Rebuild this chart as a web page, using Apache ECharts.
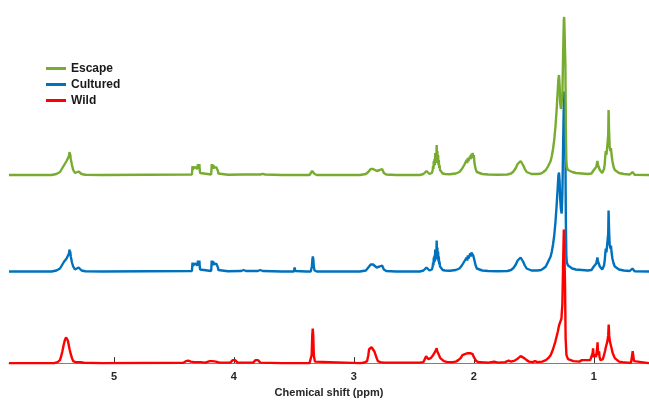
<!DOCTYPE html>
<html>
<head>
<meta charset="utf-8">
<script src="https://cdn.jsdelivr.net/npm/echarts@6/dist/echarts.min.js"></script>
<style>html,body{margin:0;padding:0;background:#fff}#c{width:649px;height:403px}</style>
</head>
<body>
<div id="c"></div>
<script>
// Tick labels of the chemical shift axis (ppm)
const tickValues = [1, 2, 3, 4, 5];
const seriesNames = ['Wild', 'Cultured', 'Escape'];
const legendOrder = ['Escape', 'Cultured', 'Wild'];

// Spectra: [chemical shift (ppm), intensity (arbitrary units)]
const escape = [
 [5.875,0],[5.52,0],[5.48,1],[5.45,3],[5.43,7],[5.415,10],[5.405,12],[5.40,11],[5.395,14],[5.39,13],[5.385,16],[5.38,15],[5.375,19],[5.372,17],[5.37,23],[5.367,18],[5.365,21],[5.36,16],[5.355,13],[5.35,10],[5.34,5],[5.325,2],[5.31,1.5],[5.295,3.5],[5.285,3],[5.27,1],[5.24,0.3],[5.10,0],
 [4.35,0.5],[4.347,6],[4.345,9],[4.343,5],[4.341,9],[4.339,6],[4.337,8],[4.334,7],[4.33,8],[4.326,7],[4.322,8],[4.318,7],[4.314,8],[4.31,7],[4.306,10],[4.303,6],[4.300,11],[4.297,7],[4.294,11],[4.291,6],[4.288,11],[4.285,5],[4.282,2],[4.276,0.5],
 [4.19,0.5],[4.187,6],[4.185,11],[4.183,6],[4.181,11],[4.179,7],[4.177,10],[4.174,6],[4.171,10],[4.168,7],[4.164,8],[4.16,7],[4.156,8],[4.152,7],[4.148,8],[4.145,6],[4.142,8],[4.139,6],[4.136,8],[4.133,4],[4.13,1.5],[4.124,0.5],
 [4.05,0.3],[3.92,0.5],[3.78,0.5],[3.76,1.2],[3.74,0.5],[3.60,0],
 [3.37,0],[3.355,1],[3.348,4],[3.342,6],[3.336,4],[3.328,1],[3.31,0],
 [2.95,0],[2.90,1],[2.88,3],[2.87,5],[2.86,6],[2.855,5],[2.85,7],[2.845,5],[2.84,6],[2.825,5],[2.81,4],[2.795,4],[2.785,5],[2.78,4],[2.775,6],[2.77,4],[2.765,6],[2.76,5],[2.75,2],[2.73,0.5],[2.65,0],
 [2.45,0],[2.42,1],[2.405,3],[2.395,4],[2.385,2],[2.37,1],[2.35,2],[2.343,5],[2.34,9],[2.337,6],[2.334,14],[2.331,9],[2.328,16],[2.325,10],[2.322,22],[2.319,12],[2.316,20],[2.313,14],[2.31,30],[2.307,15],[2.304,24],[2.301,12],[2.298,20],[2.295,10],[2.292,15],[2.289,7],[2.286,10],[2.282,5],[2.275,3],[2.26,1.5],[2.24,1],[2.20,0.8],[2.15,1.5],
 [2.12,3],[2.10,6],[2.09,8],[2.08,10],[2.075,9],[2.07,12],[2.065,10],[2.06,15],[2.055,12],[2.05,17],[2.045,14],[2.04,16],[2.035,15],[2.03,19],[2.025,16],[2.02,21],[2.015,18],[2.01,22],[2.005,17],[2.0,20],[1.995,12],[1.985,6],[1.975,3],[1.96,2],[1.93,1],[1.88,0.5],[1.80,0.3],
 [1.72,0.5],[1.69,1.5],[1.67,3.5],[1.65,7],[1.635,11],[1.62,13],[1.61,14],[1.60,13],[1.59,10],[1.575,6],[1.56,3],[1.545,1.5],[1.52,1],[1.47,1],
 [1.44,1.5],[1.42,3],[1.40,5],[1.38,9],[1.36,14],[1.35,19],[1.34,26],[1.33,35],[1.32,48],[1.31,65],[1.30,86],[1.295,96],[1.29,100],[1.285,90],[1.28,72],[1.274,66],[1.268,65],[1.262,80],[1.256,120],[1.25,155],[1.247,158],[1.241,158],[1.237,110],[1.233,45],[1.229,15],[1.225,8],[1.215,5],[1.20,4],[1.18,3],[1.15,2],[1.10,1.5],[1.05,1],[1.02,1.5],
 [1.01,3],[1.0,5],[0.995,4],[0.99,6],[0.985,5],[0.98,8],[0.975,7],[0.97,14],[0.965,10],[0.96,8],[0.955,9],[0.95,5],[0.94,3],[0.93,2],
 [0.925,3],[0.915,6],[0.91,10],[0.905,18],[0.90,24],[0.895,20],[0.89,26],[0.885,24],[0.88,40],[0.877,65],[0.873,45],[0.868,28],[0.862,24],[0.857,27],[0.852,20],[0.845,14],[0.835,8],[0.825,5],[0.81,3],[0.79,2],[0.75,1],[0.70,0.5],
 [0.685,1],[0.678,3],[0.672,1],[0.66,0.3],[0.54,0]
];

const cultured = [
 [5.875,0],[5.52,0],[5.48,1],[5.45,3],[5.43,7],[5.415,10],[5.405,12],[5.40,11],[5.395,13],[5.39,12],[5.385,15],[5.38,14],[5.375,18],[5.372,16],[5.37,22],[5.367,17],[5.365,20],[5.36,15],[5.355,12],[5.35,9],[5.34,5],[5.325,2],[5.31,2],[5.295,4],[5.285,3],[5.27,1],[5.24,0.3],[5.10,0],
 [4.35,0.5],[4.347,6],[4.345,9],[4.343,5],[4.341,9],[4.339,6],[4.337,8],[4.334,7],[4.33,8],[4.326,7],[4.322,8],[4.318,7],[4.314,8],[4.31,7],[4.306,10],[4.303,6],[4.300,11],[4.297,7],[4.294,11],[4.291,6],[4.288,11],[4.285,5],[4.282,2],[4.276,0.5],
 [4.19,0.5],[4.187,6],[4.185,11],[4.183,6],[4.181,11],[4.179,7],[4.177,10],[4.174,6],[4.171,10],[4.168,7],[4.164,8],[4.16,7],[4.156,8],[4.152,7],[4.148,8],[4.145,6],[4.142,8],[4.139,6],[4.136,8],[4.133,4],[4.13,1.5],[4.124,0.5],
 [4.05,0.3],[3.94,0.5],[3.92,1.5],[3.90,0.5],[3.80,0.5],[3.78,1.5],[3.76,0.5],[3.60,0],[3.50,0],[3.494,4],[3.488,0.5],[3.40,0],
 [3.36,0],[3.355,1],[3.35,5],[3.346,12],[3.342,15],[3.338,12],[3.334,5],[3.328,1],[3.31,0],
 [2.95,0],[2.90,1],[2.88,4],[2.87,6],[2.86,7],[2.855,6],[2.85,8],[2.845,6],[2.84,7],[2.825,5],[2.81,4],[2.795,4],[2.785,5],[2.78,4],[2.775,6],[2.77,4],[2.765,6],[2.76,5],[2.75,2],[2.73,0.5],[2.65,0],
 [2.45,0],[2.42,1],[2.405,3],[2.395,4],[2.385,2],[2.37,1],[2.35,2],[2.343,5],[2.34,9],[2.337,6],[2.334,14],[2.331,9],[2.328,16],[2.325,10],[2.322,22],[2.319,12],[2.316,20],[2.313,14],[2.31,31],[2.307,15],[2.304,24],[2.301,12],[2.298,20],[2.295,10],[2.292,15],[2.289,7],[2.286,10],[2.282,5],[2.275,3],[2.26,1.5],[2.24,1],[2.20,0.8],[2.15,1.5],
 [2.12,3],[2.10,6],[2.09,8],[2.08,10],[2.075,9],[2.07,12],[2.065,10],[2.06,14],[2.055,11],[2.05,16],[2.045,13],[2.04,15],[2.035,14],[2.03,18],[2.025,15],[2.02,19],[2.015,17],[2.01,20],[2.005,16],[2.0,18],[1.995,11],[1.985,6],[1.975,3],[1.96,2],[1.93,1],[1.88,0.5],[1.80,0.3],
 [1.72,0.5],[1.69,1.5],[1.67,3.5],[1.65,7],[1.635,11],[1.62,13],[1.61,14],[1.60,13],[1.59,10],[1.575,6],[1.56,3],[1.545,1.5],[1.52,1],[1.47,1],
 [1.44,1.5],[1.42,3],[1.40,5],[1.38,10],[1.36,15],[1.35,20],[1.34,27],[1.33,36],[1.32,49],[1.31,66],[1.30,86],[1.295,96],[1.29,99],[1.285,90],[1.28,72],[1.274,62],[1.268,58],[1.262,78],[1.256,125],[1.25,170],[1.247,180],[1.241,180],[1.237,120],[1.233,50],[1.229,16],[1.225,9],[1.215,6],[1.20,4],[1.18,3],[1.15,2],[1.10,1.5],[1.05,1],[1.02,1.5],
 [1.01,3],[1.0,5],[0.995,4],[0.99,6],[0.985,5],[0.98,8],[0.975,7],[0.97,14],[0.965,10],[0.96,8],[0.955,9],[0.95,5],[0.94,3],[0.93,2],
 [0.925,3],[0.915,6],[0.91,10],[0.905,17],[0.90,23],[0.895,19],[0.89,25],[0.885,23],[0.88,38],[0.877,61],[0.873,42],[0.868,27],[0.862,23],[0.857,26],[0.852,19],[0.845,13],[0.835,8],[0.825,5],[0.81,3],[0.79,2],[0.75,1],[0.70,0.5],
 [0.685,1],[0.678,3],[0.672,1],[0.66,0.3],[0.54,0]
];

const wild = [
 [5.875,0],[5.50,0],[5.47,1],[5.45,3],[5.44,7],[5.43,12],[5.42,18],[5.41,23],[5.405,25],[5.40,26],[5.395,24],[5.39,26],[5.385,23],[5.38,22],[5.37,14],[5.36,9],[5.35,5],[5.34,2],[5.32,1],[5.28,0.8],[5.25,0.3],[5.10,0],
 [4.42,0.3],[4.40,2],[4.39,3],[4.38,2.5],[4.36,1.5],[4.33,1],[4.28,1],[4.24,0.5],[4.20,2],[4.18,2],[4.15,1.5],[4.12,0.5],[4.03,0.5],[4.01,3],[3.99,3],[3.97,0.5],[3.84,0.5],[3.82,3],[3.80,3],[3.78,0.5],[3.60,0],[3.58,0],[3.574,1.5],[3.568,0.3],[3.40,0],
 [3.37,0],[3.358,1.5],[3.352,8],[3.347,28],[3.343,35],[3.339,28],[3.334,8],[3.325,1.5],[3.31,0.3],
 [2.95,0],[2.92,0.3],[2.89,2],[2.88,8],[2.873,14],[2.866,16],[2.86,15],[2.853,16],[2.846,14],[2.838,15],[2.83,12],[2.82,10],[2.81,5],[2.80,2],[2.78,1],[2.75,0.5],
 [2.45,0.5],[2.42,1],[2.405,3],[2.398,7],[2.39,7],[2.38,4],[2.37,3],[2.36,5],[2.35,7],[2.34,8],[2.33,10],[2.32,12],[2.31,15],[2.305,12],[2.30,10],[2.29,8],[2.28,5],[2.27,3],[2.25,2],[2.22,1],[2.18,1],
 [2.15,1.5],[2.13,3],[2.11,5],[2.095,8],[2.085,10],[2.075,9],[2.07,11],[2.06,9],[2.05,10],[2.04,9],[2.03,10],[2.02,11],[2.01,9],[2.0,6],[1.99,4],[1.98,2],[1.96,1],[1.93,0.8],
 [1.88,0.5],[1.83,1.5],[1.80,0.5],[1.74,1],[1.71,2.5],[1.69,1.5],[1.66,2.5],[1.63,5],[1.61,7],[1.595,7],[1.58,5],[1.56,3],[1.54,1.5],[1.51,1],[1.49,2],[1.47,1],[1.43,1.5],
 [1.42,2],[1.40,3],[1.38,5],[1.36,8],[1.34,14],[1.32,22],[1.30,32],[1.29,38],[1.28,40],[1.27,45],[1.262,60],[1.256,100],[1.25,135],[1.245,135],[1.24,80],[1.235,25],[1.228,8],[1.215,4],[1.20,3],[1.17,2],[1.12,1.5],
 [1.10,3],[1.06,3],[1.03,3],[1.015,4],[1.01,10],[1.006,15],[1.002,6],[0.995,5],[0.99,9],[0.986,11],[0.982,6],[0.976,7],[0.972,15],[0.969,21],[0.965,12],[0.96,8],[0.956,12],[0.952,6],[0.945,3],[0.935,3],
 [0.925,4],[0.915,8],[0.905,13],[0.90,16],[0.893,18],[0.887,22],[0.88,28],[0.876,39],[0.872,28],[0.866,22],[0.86,20],[0.852,15],[0.845,11],[0.835,8],[0.825,5],[0.81,3],[0.79,1.5],[0.76,1],[0.72,0.5],
 [0.69,0.3],[0.682,2],[0.676,12],[0.67,12],[0.665,2],[0.655,0.3],[0.54,0]
];

const spectra = [wild, cultured, escape];
const colors = ['#FF0000', '#0072BD', '#77AC30'];
const xMin = 0.54, xMax = 5.875;

// Three stacked grids, one per spectrum (same x scale, same y scale)
const baselines = [367, 271.5, 175]; // pixel y of each spectrum's baseline
const chart = echarts.init(document.getElementById('c'));
const grids = [], xAxes = [], yAxes = [], series = [];
const font = 'Liberation Sans, Arial, sans-serif';
spectra.forEach((d, i) => {
  grids.push({ left: 9, right: 0, top: 0, bottom: 403 - baselines[i], containLabel: false });
  const isBottom = i === 0;
  xAxes.push({
    type: 'value', gridIndex: i, inverse: true, min: xMin, max: xMax,
    show: isBottom,
    splitLine: { show: false },
    axisLine: { show: isBottom, lineStyle: { color: '#808080', width: 1 } },
    axisTick: { show: isBottom, inside: true, length: 6, customValues: tickValues, lineStyle: { color: '#333', width: 1 } },
    axisLabel: { show: isBottom, customValues: tickValues, margin: 8, color: '#262626', fontSize: 11, fontWeight: 'bold', fontFamily: font },
    name: isBottom ? 'Chemical shift (ppm)' : '',
    nameLocation: 'middle', nameGap: 21,
    nameTextStyle: { color: '#262626', fontSize: 11, fontWeight: 'bold', fontFamily: font }
  });
  yAxes.push({ type: 'value', gridIndex: i, min: 0, max: baselines[i], show: false, splitLine: { show: false } });
  series.push({
    name: seriesNames[i], type: 'line', xAxisIndex: i, yAxisIndex: i,
    data: d, showSymbol: false, symbol: 'none', clip: false,
    lineStyle: { color: colors[i], width: 2.4 }, itemStyle: { color: colors[i] },
    z: 2 + i
  });
});

chart.setOption({
  animation: false,
  backgroundColor: '#fff',
  legend: {
    data: legendOrder, orient: 'vertical', left: 46, top: 61, padding: 0,
    icon: 'rect', itemWidth: 20, itemHeight: 3, itemGap: 1,
    textStyle: { color: '#1a1a1a', fontSize: 12, fontWeight: 'bold', fontFamily: font, lineHeight: 15 }
  },
  grid: grids, xAxis: xAxes, yAxis: yAxes, series: series
});
</script>
</body>
</html>
